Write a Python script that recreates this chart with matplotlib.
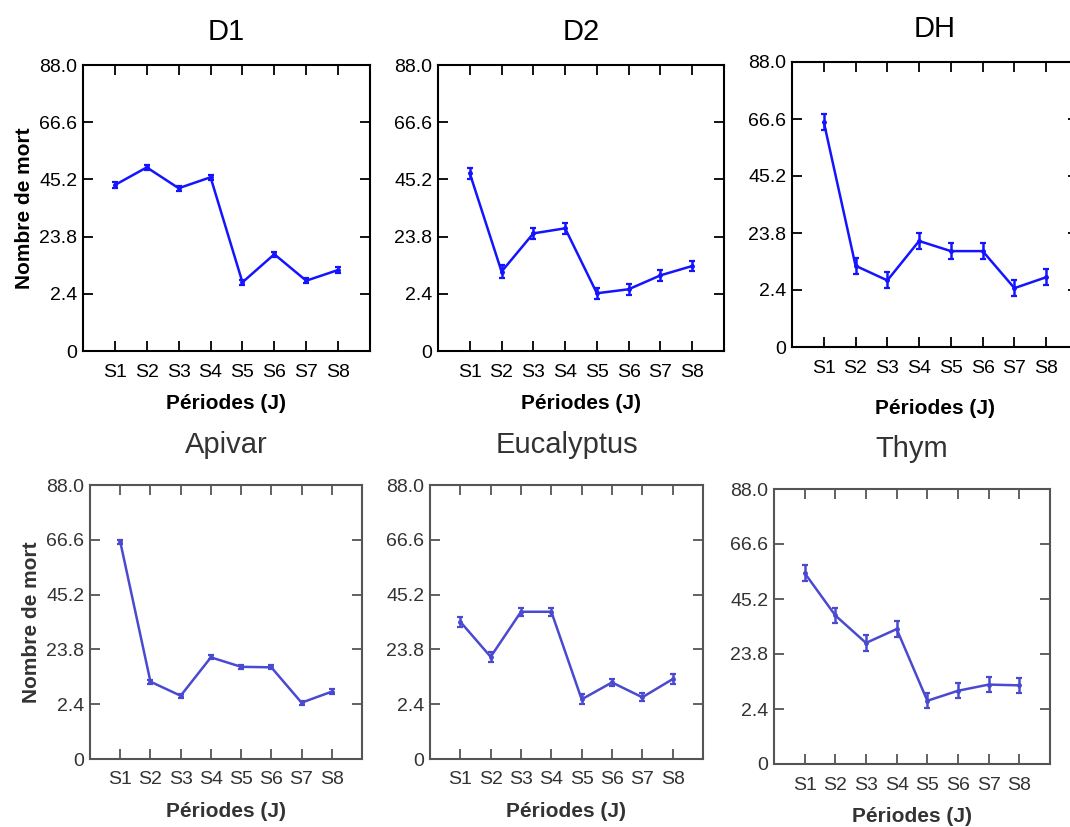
import matplotlib
matplotlib.use("Agg")
import matplotlib.pyplot as plt

plt.rcParams['font.family'] = ['Liberation Sans', 'DejaVu Sans']

periods = ['S1', 'S2', 'S3', 'S4', 'S5', 'S6', 'S7', 'S8']
y_ticks = [-19.0, 2.4, 23.8, 45.2, 66.6, 88.0]
y_tick_labels = ['0', '2.4', '23.8', '45.2', '66.6', '88.0']

titles = ['D1', 'D2', 'DH', 'Apivar', 'Eucalyptus', 'Thym']

d1 = [43.1, 49.7, 41.9, 46.0, 6.7, 17.2, 7.3, 11.3]
d1_err = [1.0, 1.0, 1.0, 1.0, 1.0, 1.0, 1.0, 1.0]
d2 = [47.5, 10.7, 25.0, 26.9, 2.6, 4.1, 9.3, 12.8]
d2_err = [2.0, 2.5, 2.0, 2.0, 2.0, 2.0, 2.0, 2.0]
dh = [65.5, 11.5, 6.0, 20.8, 17.0, 17.0, 3.1, 7.2]
dh_err = [3.0, 3.0, 3.0, 3.0, 3.0, 3.0, 3.0, 3.0]
apivar = [65.9, 11.2, 5.7, 20.7, 17.0, 16.8, 3.0, 7.3]
apivar_err = [0.8, 0.8, 0.8, 0.8, 0.8, 0.8, 0.8, 1.0]
eucalyptus = [34.6, 20.9, 38.5, 38.5, 4.3, 10.9, 5.1, 12.2]
eucalyptus_err = [2.0, 2.0, 1.5, 1.5, 2.0, 1.5, 1.5, 2.0]
thym = [55.3, 38.8, 28.1, 33.5, 5.6, 9.5, 11.9, 11.6]
thym_err = [3.0, 3.0, 3.0, 3.0, 3.0, 3.0, 3.0, 3.0]

series = [d1, d2, dh, apivar, eucalyptus, thym]
errors = [d1_err, d2_err, dh_err, apivar_err, eucalyptus_err, thym_err]

W, H = 1070, 827
# axes boxes in pixels: left, right, top, bottom
boxes = [
    (83, 370, 65, 351),
    (438, 724, 65, 351),
    (792, 1078, 62, 347),
    (90, 362, 485, 759),
    (430, 703, 485, 759),
    (774, 1050, 489, 764),
]
xlabel_pads = [10, 10, 16, 10, 10, 10]

fig = plt.figure(figsize=(W / 100, H / 100), dpi=100)

for i, (vals, errs) in enumerate(zip(series, errors)):
    l, r, t, b = boxes[i]
    ax = fig.add_axes([l / W, 1 - b / H, (r - l) / W, (b - t) / H])
    top_row = i < 3
    line_col = '#1414ff' if top_row else '#4a4ad0'
    spine_col = 'black' if top_row else '#555555'
    text_col = 'black' if top_row else '#333333'

    x = list(range(1, len(periods) + 1))
    ax.errorbar(x, vals, yerr=errs, color=line_col, lw=1.8, elinewidth=1.8,
                capsize=2.5, capthick=1.6, marker='o', markersize=2.5)

    ax.set_xlim(0, 9)
    ax.set_ylim(-19, 88)
    ax.set_xticks(x)
    ax.set_xticklabels(periods)
    ax.set_yticks(y_ticks)
    ax.set_yticklabels(y_tick_labels)
    ax.tick_params(direction='in', top=True, right=True, length=7, width=1.3,
                   labelsize=14, colors=spine_col, labelcolor=text_col)
    ax.tick_params(axis='x', pad=9)
    ax.tick_params(axis='y', pad=4)
    for s in ax.spines.values():
        s.set_linewidth(1.5)
        s.set_color(spine_col)

    ax.set_title(titles[i], fontsize=21, color=text_col,
                 pad=18 if top_row else 23)
    ax.set_xlabel('Périodes (J)', fontsize=15, fontweight='bold',
                  color=text_col, labelpad=xlabel_pads[i])
    if i % 3 == 0:
        ax.set_ylabel('Nombre de mort', fontsize=15, fontweight='bold',
                      color=text_col, labelpad=4)

fig.savefig('out.png', dpi=100)
